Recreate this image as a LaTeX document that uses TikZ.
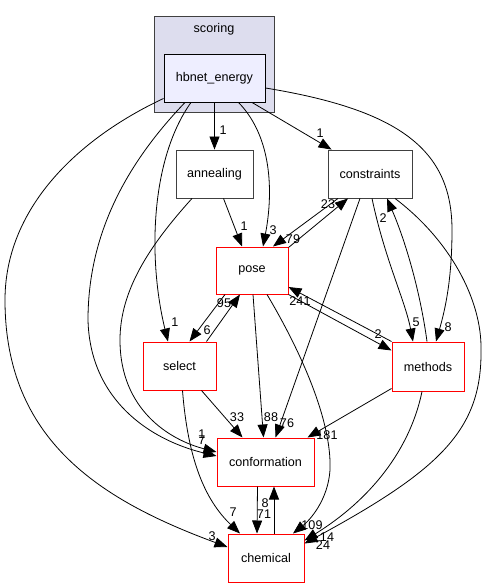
\documentclass[tikz,border=0pt]{standalone}
\usepackage{fontspec}
\setmainfont{Liberation Sans}
\usepackage{xcolor}
\usepackage{tikz}
\usetikzlibrary{arrows.meta}
\definecolor{scoringfill}{HTML}{DDDDEE}
\definecolor{mainfill}{HTML}{EEEEFF}
\definecolor{edgegray}{HTML}{404040}
\newcommand{\doxyfont}{\fontsize{12.6}{15}\selectfont}
\tikzstyle{clusterbox} = [draw=edgegray, fill=scoringfill, line width=0.9pt, minimum width=120pt, minimum height=96pt, inner sep=0pt]
\tikzstyle{mainnode} = [draw=black, fill=mainfill, line width=0.9pt, minimum height=48pt, inner sep=0pt, font=\doxyfont]
\tikzstyle{dirnode} = [draw=edgegray, fill=white, line width=0.9pt, minimum height=48pt, inner sep=0pt, font=\doxyfont]
\tikzstyle{truncnode} = [dirnode, draw=red, line width=1pt]
\tikzstyle{arrw} = [line width=0.8pt, -{Triangle[length=13pt, width=10pt]}]
\tikzstyle{lbl} = [font=\doxyfont, inner sep=0pt]

\begin{document}
\begin{tikzpicture}[x=1pt, y=-1pt]
    \useasboundingbox (0,0) rectangle (487,588);

    \node (scoring) [clusterbox] at (214,64) {};
    \node (scoringlbl) [lbl] at (214,29) {scoring};
    \node (hbnet) [mainnode, minimum width=101pt] at (214.5,78) {hbnet\_energy};
    \node (annealing) [dirnode, minimum width=77pt] at (214.5,174) {annealing};
    \node (constraints) [dirnode, minimum width=84pt] at (370,174) {constraints};
    \node (pose) [truncnode, minimum width=72pt, minimum height=47pt] at (252,270.5) {pose};
    \node (select) [truncnode, minimum width=73pt] at (179.5,366) {select};
    \node (methods) [truncnode, minimum width=72pt, minimum height=49pt] at (428,366.5) {methods};
    \node (conformation) [truncnode, minimum width=97pt] at (265.5,462) {conformation};
    \node (chemical) [truncnode, minimum width=76pt] at (266,558) {chemical};

    \draw [arrw] (hbnet) -- (annealing) node[lbl] at (223,130) {1};
    \draw [arrw] ([xshift=37.5pt]hbnet.south) -- ([xshift=4pt]constraints.north west) node[lbl] at (320,133) {1};
    \draw [arrw] ([xshift=24pt]hbnet.south) .. controls (275,140) and (272,200) .. ([xshift=11pt]pose.north) node[lbl] at (273,230) {3};
    \draw [arrw] ([xshift=-23.5pt]hbnet.south) .. controls (150,160) and (148,260) .. ([xshift=-11.5pt]select.north) node[lbl] at (175,322) {1};
    \draw [arrw] ([xshift=-29.5pt]hbnet.south) .. controls (130,160) and (88,230) .. (88,320) .. controls (90,400) and (150,440) .. ([yshift=6pt]conformation.west) node[lbl] at (202,440) {7};
    \draw [arrw] ([yshift=4pt]hbnet.south west) .. controls (75,140) and (5,210) .. (5,300) .. controls (5,440) and (100,500) .. ([yshift=11pt]chemical.west) node[lbl] at (212,536) {3};
    \draw [arrw] ([yshift=-10pt]hbnet.east) .. controls (400,110) and (452,150) .. (452,230) .. controls (452,280) and (445,310) .. ([xshift=8pt]methods.north) node[lbl] at (448,327) {8};

    \draw [arrw] ([xshift=9pt]annealing.south) -- ([xshift=-10pt]pose.north) node[lbl] at (244,226) {1};
    \draw [arrw] ([xshift=-22.5pt]annealing.south) .. controls (150,245) and (120,290) .. (120,340) .. controls (120,410) and (170,440) .. ([yshift=10pt]conformation.west) node[lbl] at (202,434) {1};

    \draw [arrw] ([xshift=-32pt]constraints.south) -- ([xshift=21pt]pose.north) node[lbl] at (293,239) {79};
    \draw [arrw] ([xshift=2pt]constraints.south) .. controls (385,260) and (405,300) .. ([xshift=-15pt]methods.north) node[lbl] at (416,322) {5};
    \draw [arrw] ([xshift=-10pt]constraints.south) -- ([xshift=10pt]conformation.north) node[lbl] at (287,423) {76};
    \draw [arrw] ([xshift=25pt]constraints.south) .. controls (450,240) and (482,300) .. (481,350) .. controls (482,430) and (440,470) .. ([yshift=-10pt]chemical.north east) node[lbl] at (327,537) {14};

    \draw [arrw] ([yshift=-1pt]pose.north east) -- ([xshift=-22pt]constraints.south) node[lbl] at (328,204) {23};
    \draw [arrw] ([xshift=-27pt]pose.south) -- ([xshift=10pt]select.north) node[lbl] at (207,330) {6};
    \draw [arrw] ([xshift=1pt]pose.south) -- ([xshift=-2pt]conformation.north) node[lbl] at (271,417) {88};
    \draw [arrw] ([xshift=15pt]pose.south) .. controls (300,350) and (332,420) .. (330,470) .. controls (328,500) and (310,520) .. ([xshift=27pt]chemical.north) node[lbl] at (312,525) {109};
    \draw [arrw] (pose.south east) -- ([yshift=16pt]methods.west) node[lbl] at (378,334) {2};

    \draw [arrw] ([xshift=27pt]select.north) -- ([xshift=-12pt]pose.south) node[lbl] at (224,303) {95};
    \draw [arrw] ([xshift=22pt]select.south) -- ([xshift=-23pt]conformation.north) node[lbl] at (237,417) {33};
    \draw [arrw] ([xshift=3pt]select.south) .. controls (188,460) and (205,500) .. ([xshift=-26pt]chemical.north) node[lbl] at (233,512) {7};

    \draw [arrw] (methods.north west) -- ([yshift=-16.5pt]pose.east) node[lbl] at (300,301) {241};
    \draw [arrw] ([xshift=-1pt]methods.north) .. controls (420,290) and (405,240) .. ([xshift=17pt]constraints.south) node[lbl] at (383,218) {2};
    \draw [arrw] ([yshift=3pt]methods.south west) -- ([xshift=-7pt]conformation.north east) node[lbl] at (327,435) {181};
    \draw [arrw] ([xshift=-6pt]methods.south) .. controls (410,450) and (370,500) .. ([yshift=-7pt]chemical.north east) node[lbl] at (323,545) {24};

    \draw [arrw] ([xshift=-8pt]conformation.south) -- ([xshift=-9pt]chemical.north) node[lbl] at (264,514) {71};
    \draw [arrw] ([xshift=8pt]chemical.north) -- ([xshift=8.5pt]conformation.south) node[lbl] at (265,503) {8};
\end{tikzpicture}
\end{document}
